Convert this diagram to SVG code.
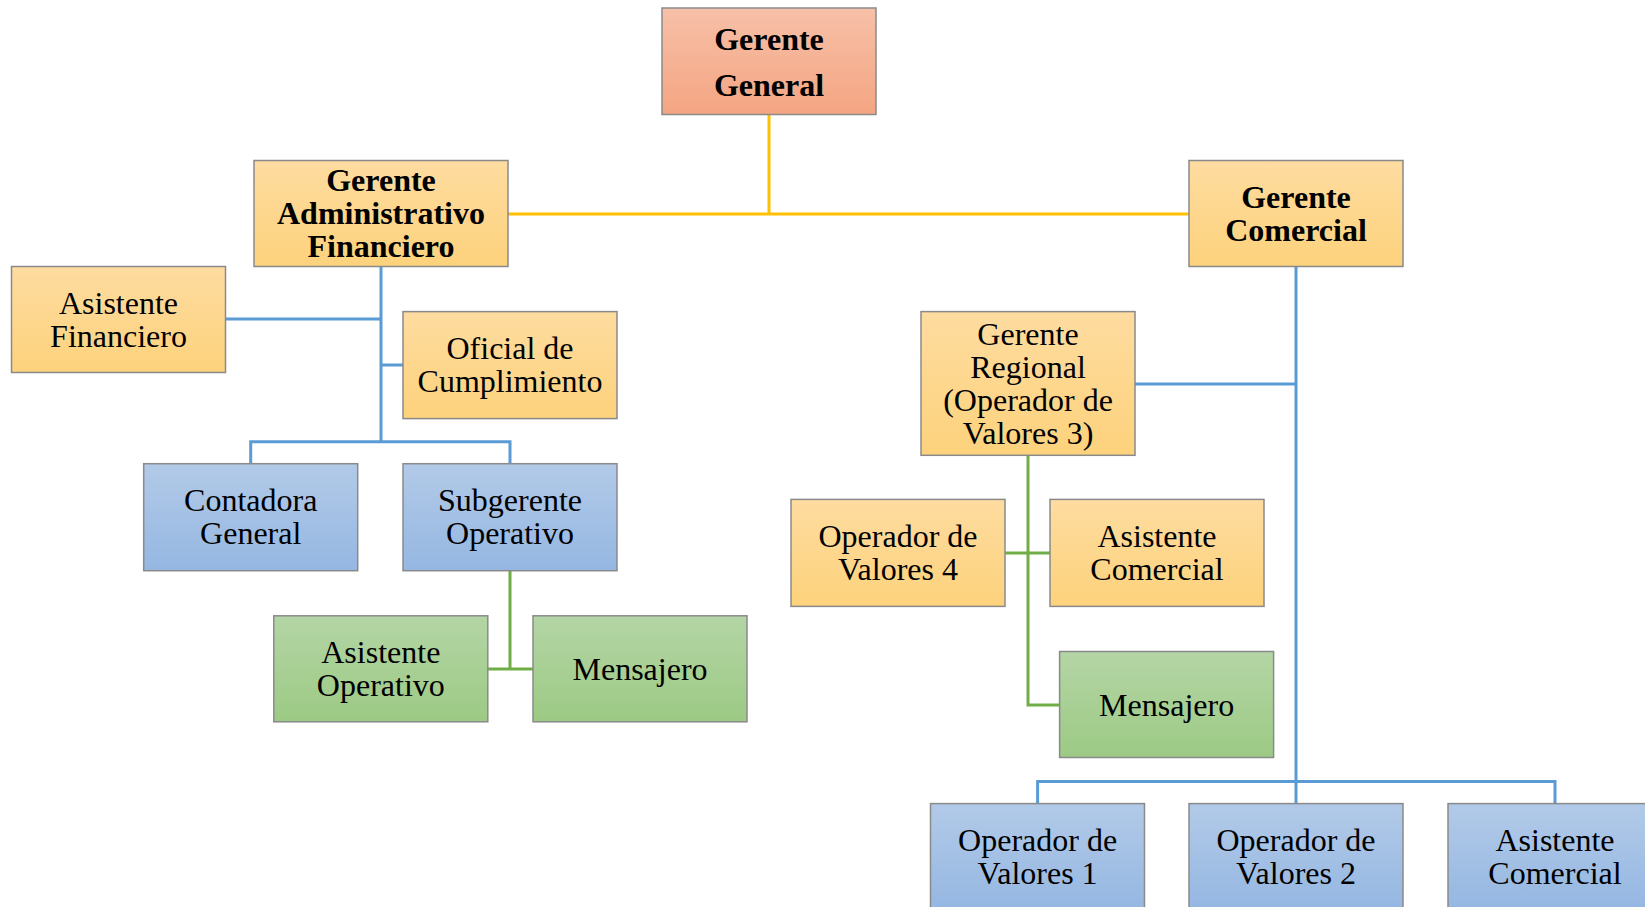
<svg xmlns="http://www.w3.org/2000/svg" width="1645" height="907" viewBox="0 0 1645 907">
  <defs>
    <linearGradient id="gRed" x1="0" y1="0" x2="0" y2="1">
      <stop offset="0" stop-color="#F7C0A8"/>
      <stop offset="1" stop-color="#F4A582"/>
    </linearGradient>
    <linearGradient id="gGold" x1="0" y1="0" x2="0" y2="1">
      <stop offset="0" stop-color="#FEDCA0"/>
      <stop offset="1" stop-color="#FDD27C"/>
    </linearGradient>
    <linearGradient id="gBlue" x1="0" y1="0" x2="0" y2="1">
      <stop offset="0" stop-color="#B2CAE8"/>
      <stop offset="1" stop-color="#95B7E2"/>
    </linearGradient>
    <linearGradient id="gGreen" x1="0" y1="0" x2="0" y2="1">
      <stop offset="0" stop-color="#B4D5A5"/>
      <stop offset="1" stop-color="#9CCA84"/>
    </linearGradient>
  </defs>
  <style>
    rect { stroke: #8A8A8A; stroke-width: 1.5; }
    .red { fill: url(#gRed); }
    .gold { fill: url(#gGold); }
    .blue { fill: url(#gBlue); }
    .green { fill: url(#gGreen); }
    text { font-family: "Liberation Serif", "Times New Roman", serif; font-size: 32px; fill: #000; text-anchor: middle; }
    .b { font-weight: bold; }
    .c { fill: none; stroke-width: 3; }
    .cy { stroke: #FFC000; }
    .cb { stroke: #5B9BD5; }
    .cg { stroke: #70AD47; }
  </style>

  <!-- connectors -->
  <g id="connectors">
    <path class="c cy" d="M769,115 V214 M508,214 H1189"/>
    <path class="c cb" d="M381,266.5 V441.7 M225.6,319 H381 M381,365 H403 M250.7,463.7 V441.7 H510 V463.7"/>
    <path class="c cg" d="M510,570.7 V669 M487.8,669 H533"/>
    <path class="c cb" d="M1296,266.5 V803.6 M1135,384 H1296 M1037.6,803.6 V781.6 H1555 V803.6"/>
    <path class="c cg" d="M1028,455.3 V705 H1059.6 M1005,553 H1050"/>
  </g>

  <g id="gerente-general">
    <rect class="red" x="662" y="8" width="214" height="106.5"/>
    <text class="b" x="769" y="50">Gerente</text>
    <text class="b" x="769" y="96">General</text>
  </g>

  <g id="gerente-admin-financiero">
    <rect class="gold" x="254" y="160.5" width="254" height="106"/>
    <text class="b" x="381" y="191">Gerente</text>
    <text class="b" x="381" y="224">Administrativo</text>
    <text class="b" x="381" y="257">Financiero</text>
  </g>

  <g id="gerente-comercial">
    <rect class="gold" x="1189" y="160.5" width="214" height="106"/>
    <text class="b" x="1296" y="207.5">Gerente</text>
    <text class="b" x="1296" y="240.5">Comercial</text>
  </g>

  <g id="asistente-financiero">
    <rect class="gold" x="11.5" y="266.5" width="214" height="106"/>
    <text x="118.5" y="314">Asistente</text>
    <text x="118.5" y="347">Financiero</text>
  </g>

  <g id="oficial-cumplimiento">
    <rect class="gold" x="403" y="311.6" width="214" height="107"/>
    <text x="510" y="359">Oficial de</text>
    <text x="510" y="392">Cumplimiento</text>
  </g>

  <g id="contadora-general">
    <rect class="blue" x="143.7" y="463.7" width="214" height="107"/>
    <text x="250.7" y="511">Contadora</text>
    <text x="250.7" y="544">General</text>
  </g>

  <g id="subgerente-operativo">
    <rect class="blue" x="403" y="463.7" width="214" height="107"/>
    <text x="510" y="511">Subgerente</text>
    <text x="510" y="544">Operativo</text>
  </g>

  <g id="asistente-operativo">
    <rect class="green" x="273.8" y="615.8" width="214" height="106"/>
    <text x="380.8" y="663">Asistente</text>
    <text x="380.8" y="696">Operativo</text>
  </g>

  <g id="mensajero-operativo">
    <rect class="green" x="533" y="615.8" width="214" height="106"/>
    <text x="640" y="680">Mensajero</text>
  </g>

  <g id="gerente-regional">
    <rect class="gold" x="921" y="311.6" width="214" height="143.7"/>
    <text x="1028" y="345">Gerente</text>
    <text x="1028" y="378">Regional</text>
    <text x="1028" y="411">(Operador de</text>
    <text x="1028" y="444">Valores 3)</text>
  </g>

  <g id="operador-valores-4">
    <rect class="gold" x="791" y="499.4" width="214" height="107"/>
    <text x="898" y="547">Operador de</text>
    <text x="898" y="580">Valores 4</text>
  </g>

  <g id="asistente-comercial-regional">
    <rect class="gold" x="1050" y="499.4" width="214" height="107"/>
    <text x="1157" y="547">Asistente</text>
    <text x="1157" y="580">Comercial</text>
  </g>

  <g id="mensajero-regional">
    <rect class="green" x="1059.6" y="651.5" width="214" height="106"/>
    <text x="1166.6" y="716">Mensajero</text>
  </g>

  <g id="operador-valores-1">
    <rect class="blue" x="930.5" y="803.6" width="214" height="106"/>
    <text x="1037.6" y="851">Operador de</text>
    <text x="1037.6" y="884">Valores 1</text>
  </g>

  <g id="operador-valores-2">
    <rect class="blue" x="1189" y="803.6" width="214" height="106"/>
    <text x="1296" y="851">Operador de</text>
    <text x="1296" y="884">Valores 2</text>
  </g>

  <g id="asistente-comercial">
    <rect class="blue" x="1448" y="803.6" width="214" height="106"/>
    <text x="1555" y="851">Asistente</text>
    <text x="1555" y="884">Comercial</text>
  </g>
</svg>
